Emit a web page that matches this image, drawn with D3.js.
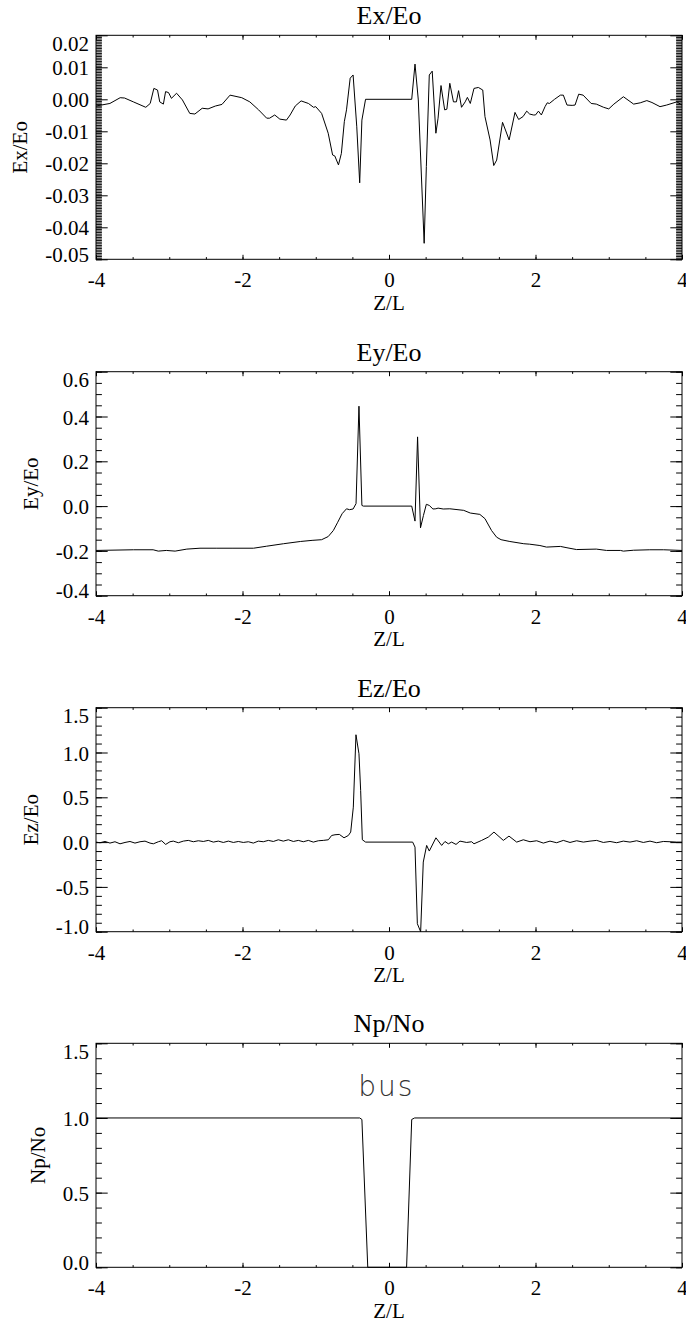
<!DOCTYPE html>
<html><head><meta charset="utf-8">
<script src="https://cdn.jsdelivr.net/npm/d3@7"></script>
<style>html,body{margin:0;padding:0;background:#fff;} svg{display:block;}</style>
</head><body><svg id="c" width="686" height="1328"></svg>
<script>
// ---------------- DATA ----------------
const exZ = [-4.00,-3.81,-3.67,-3.61,-3.49,-3.32,-3.26,-3.21,-3.16,-3.13,-3.08,-3.05,-3.01,-2.97,-2.90,-2.82,-2.72,-2.65,-2.55,-2.47,-2.37,-2.28,-2.17,-2.01,-1.90,-1.78,-1.67,-1.63,-1.56,-1.49,-1.40,-1.35,-1.28,-1.20,-1.10,-1.03,-1.00,-0.92,-0.83,-0.77,-0.74,-0.69,-0.65,-0.61,-0.58,-0.53,-0.49,-0.44,-0.40,-0.37,-0.32,0.31,0.355,0.40,0.48,0.51,0.55,0.59,0.64,0.67,0.71,0.76,0.79,0.83,0.88,0.92,0.95,0.99,1.04,1.07,1.11,1.16,1.22,1.28,1.31,1.38,1.43,1.47,1.55,1.59,1.64,1.72,1.77,1.83,1.88,1.92,1.97,2.00,2.04,2.08,2.13,2.16,2.19,2.26,2.34,2.38,2.43,2.50,2.54,2.59,2.65,2.76,2.83,2.93,3.00,3.07,3.20,3.34,3.43,3.52,3.59,3.70,3.79,3.93,4.00];
const exV = [-0.0021,-0.0013,0.0005,0.0004,-0.0008,-0.0025,-0.0013,0.0034,0.0029,-0.0008,-0.0015,0.0024,0.0021,0.0003,0.0019,-0.0002,-0.0044,-0.0046,-0.0028,-0.0030,-0.0021,-0.0016,0.0013,0.0005,-0.0008,-0.0033,-0.0059,-0.0059,-0.0049,-0.0062,-0.0065,-0.0049,-0.0021,-0.0005,-0.0013,-0.0025,-0.0023,-0.0044,-0.0106,-0.0174,-0.0177,-0.0205,-0.0169,-0.0070,-0.0033,0.0066,0.0076,-0.0086,-0.0261,-0.0065,0.0000,0.0000,0.0110,-0.0002,-0.0450,-0.0210,0.0076,0.0088,-0.0106,-0.0059,0.0043,-0.0033,-0.0031,0.0050,-0.0008,-0.0008,0.0027,-0.0025,-0.0008,0.0006,-0.0013,0.0034,0.0037,0.0029,-0.0054,-0.0127,-0.0207,-0.0190,-0.0072,-0.0096,-0.0127,-0.0041,-0.0063,-0.0054,-0.0037,-0.0046,-0.0049,-0.0049,-0.0037,-0.0049,-0.0023,-0.0011,-0.0013,0.0000,0.0013,0.0013,-0.0018,-0.0019,-0.0018,0.0016,0.0013,-0.0013,-0.0015,-0.0025,-0.0030,-0.0015,0.0008,-0.0015,-0.0011,-0.0004,-0.0010,-0.0023,-0.0018,-0.0008,-0.0018];

const eyZ = [-4.00,-3.49,-3.22,-3.15,-3.04,-2.92,-2.76,-2.58,-2.36,-2.13,-1.85,-1.67,-1.44,-1.21,-1.05,-0.92,-0.83,-0.76,-0.70,-0.64,-0.58,-0.54,-0.49,-0.45,-0.41,-0.37,-0.35,0.31,0.355,0.39,0.43,0.47,0.51,0.55,0.60,0.64,0.67,0.74,0.83,1.02,1.11,1.24,1.31,1.40,1.47,1.53,1.65,1.84,1.92,2.06,2.15,2.34,2.43,2.56,2.83,2.97,3.16,3.20,3.34,3.56,3.75,4.00];
const eyV = [-0.198,-0.195,-0.195,-0.201,-0.198,-0.201,-0.192,-0.188,-0.188,-0.188,-0.188,-0.179,-0.168,-0.158,-0.153,-0.150,-0.136,-0.109,-0.072,-0.034,-0.012,-0.016,-0.013,0.011,0.446,0.003,0.000,0.000,-0.067,0.309,-0.097,-0.042,0.008,0.003,-0.013,-0.012,-0.009,-0.013,-0.012,-0.019,-0.031,-0.037,-0.056,-0.109,-0.139,-0.150,-0.158,-0.168,-0.170,-0.176,-0.183,-0.180,-0.186,-0.194,-0.192,-0.198,-0.198,-0.201,-0.197,-0.195,-0.195,-0.198];

const ezZ = [-4.00,-3.945,-3.877,-3.809,-3.741,-3.672,-3.604,-3.536,-3.468,-3.399,-3.331,-3.263,-3.217,-3.149,-3.104,-3.049,-2.990,-2.944,-2.876,-2.808,-2.740,-2.671,-2.603,-2.535,-2.467,-2.398,-2.330,-2.262,-2.193,-2.125,-2.057,-1.989,-1.920,-1.852,-1.784,-1.716,-1.647,-1.579,-1.511,-1.443,-1.374,-1.306,-1.238,-1.170,-1.101,-1.033,-0.965,-0.897,-0.828,-0.783,-0.737,-0.678,-0.614,-0.555,-0.523,-0.487,-0.451,-0.410,-0.387,-0.364,-0.319,0.323,0.355,0.387,0.432,0.468,0.514,0.550,0.641,0.719,0.764,0.810,0.855,0.915,0.969,1.060,1.128,1.160,1.265,1.356,1.433,1.561,1.638,1.743,1.834,1.925,2.016,2.107,2.198,2.289,2.380,2.471,2.562,2.653,2.744,2.835,2.926,3.017,3.108,3.199,3.290,3.381,3.472,3.563,3.654,3.745,3.836,3.927,4.00];
const ezV = [0.000,-0.007,0.007,-0.011,0.004,-0.019,-0.004,0.007,-0.011,0.004,0.011,-0.011,-0.019,0.004,0.015,-0.026,0.004,0.011,-0.007,0.011,0.019,0.004,0.015,0.007,0.019,0.000,0.011,-0.004,0.011,-0.004,0.007,-0.004,0.004,-0.011,0.011,0.004,0.019,0.007,0.026,0.011,0.026,0.007,0.019,0.004,0.019,0.000,0.015,0.019,0.026,0.074,0.082,0.086,0.048,0.074,0.112,0.390,1.198,0.986,0.577,0.026,0.000,0.000,-0.056,-0.911,-1.000,-0.223,-0.037,-0.100,0.048,-0.037,0.007,-0.019,0.000,-0.026,0.011,-0.004,0.004,-0.019,0.019,0.056,0.112,0.019,0.067,0.000,0.026,0.004,0.015,-0.011,0.011,-0.007,0.019,-0.004,0.015,0.000,0.011,0.019,-0.004,0.007,-0.007,0.011,0.000,0.015,-0.004,0.011,-0.007,0.007,0.004,0.000,0.000];

const npZ = [-4.00,-0.40,-0.37,-0.29,0.24,0.31,0.35,4.00];
const npV = [1.00,1.00,0.99,0.00,0.00,0.99,1.00,1.00];

const xTicks = [-4,-2,0,2,4];
const xMinorStep = 0.5;
const exTicks = [-0.05,-0.04,-0.03,-0.02,-0.01,0.00,0.01,0.02];
const eyTicks = [-0.4,-0.2,0.0,0.2,0.4,0.6];
const ezTicks = [-1.0,-0.5,0.0,0.5,1.0,1.5];
const npTicks = [0.0,0.5,1.0,1.5];
const titles = ["Ex/Eo","Ey/Eo","Ez/Eo","Np/No"];
const xTitle = "Z/L";
const minorSteps = [0.0005,0.05,0.1,0.1];
const decimals = [2,1,1,1];
const annotText = "bus";
const annotZ = -0.42, annotV = 1.15;

// ---------------- LAYOUT ----------------
const W = 686, H = 1328;
const L = 96, R = 682;
const tops = [35.3, 371.7, 707.7, 1043.3];
const PH = 224;
const YMAJ = 11.7, YMIN = 5.9, XMAJ = 4.5, XMIN = 2.2;
const serif = "Liberation Serif";

const series = [[exZ,exV],[eyZ,eyV],[ezZ,ezV],[npZ,npV]];
const tickSets = [exTicks,eyTicks,ezTicks,npTicks];

const svg = d3.select("#c");
svg.append("rect").attr("width",W).attr("height",H).attr("fill","#fff");

const x = d3.scaleLinear().domain([xTicks[0], xTicks[xTicks.length-1]]).range([L,R]);
const xn = Math.round((x.domain()[1]-x.domain()[0])/xMinorStep);
const xMinor = d3.range(xn+1).map(k => x.domain()[0] + k*xMinorStep);

function fmt(v,d){ return (Math.abs(v)<1e-12?0:v).toFixed(d); }
function styleAxis(sel){ sel.attr("font-family",serif).attr("font-size",21).select(".domain").remove(); sel.selectAll(".tick line").attr("stroke","#000"); }

tickSets.forEach((ticks,i)=>{
  const top = tops[i], bot = top+PH;
  const lo = ticks[0], hi = ticks[ticks.length-1];
  const y = d3.scaleLinear().domain([lo,hi]).range([bot,top]);
  const n = Math.round((hi-lo)/minorSteps[i]);
  const yMinor = d3.range(n+1).map(k => lo + k*minorSteps[i]);
  const g = svg.append("g");

  g.append("g").attr("transform",`translate(${L},0)`).call(d3.axisLeft(y).tickValues(yMinor).tickSize(-YMIN).tickSizeOuter(0).tickFormat("")).call(styleAxis);
  g.append("g").attr("transform",`translate(${R},0)`).call(d3.axisRight(y).tickValues(yMinor).tickSize(-YMIN).tickSizeOuter(0).tickFormat("")).call(styleAxis);
  g.append("g").attr("transform",`translate(${R},0)`).call(d3.axisRight(y).tickValues(ticks).tickSize(-YMAJ).tickSizeOuter(0).tickFormat("")).call(styleAxis);
  const left = g.append("g").attr("transform",`translate(${L},0)`)
    .call(d3.axisLeft(y).tickValues(ticks).tickSize(-YMAJ).tickSizeOuter(0).tickPadding(7).tickFormat(v=>fmt(v,decimals[i])))
    .call(styleAxis);
  left.selectAll(".tick text").attr("fill","#000").attr("font-family",serif).attr("dy","0.36em")
    .attr("y", d => Math.abs(d-hi)<1e-9 ? 7.5 : (Math.abs(d-lo)<1e-9 ? -5.5 : 0));

  g.append("g").attr("transform",`translate(0,${bot})`).call(d3.axisBottom(x).tickValues(xMinor).tickSize(-XMIN).tickSizeOuter(0).tickFormat("")).call(styleAxis);
  g.append("g").attr("transform",`translate(0,${top})`).call(d3.axisTop(x).tickValues(xMinor).tickSize(-XMIN).tickSizeOuter(0).tickFormat("")).call(styleAxis);
  g.append("g").attr("transform",`translate(0,${top})`).call(d3.axisTop(x).tickValues(xTicks).tickSize(-XMAJ).tickSizeOuter(0).tickFormat("")).call(styleAxis);
  const bx = g.append("g").attr("transform",`translate(0,${bot})`)
    .call(d3.axisBottom(x).tickValues(xTicks).tickSize(-XMAJ).tickSizeOuter(0).tickFormat(d3.format("d")))
    .call(styleAxis);
  bx.selectAll(".tick text").attr("fill","#000").attr("font-family",serif).attr("y",28).attr("dy",0).text(d=>String(d));

  g.append("rect").attr("x",L).attr("y",top).attr("width",R-L).attr("height",PH)
    .attr("fill","none").attr("stroke","#000").attr("stroke-width",1);

  const [zs,vs] = series[i];
  const pts = zs.map((z,k)=>[z,vs[k]]);
  g.append("path").datum(pts)
    .attr("d", d3.line().x(d=>x(d[0])).y(d=>y(d[1])))
    .attr("fill","none").attr("stroke","#000").attr("stroke-width",1).attr("stroke-linejoin","round");

  g.append("text").attr("x",(L+R)/2).attr("y",top-11).attr("text-anchor","middle")
    .attr("font-family",serif).attr("font-size",26).text(titles[i]);
  g.append("text").attr("x",(L+R)/2).attr("y",bot+50.7).attr("text-anchor","middle")
    .attr("font-family",serif).attr("font-size",21).text(xTitle);
  const bb = left.node().getBBox();
  const yl = L + bb.x - 18;
  g.append("text").attr("transform",`translate(${yl},${(top+bot)/2}) rotate(-90)`).attr("text-anchor","middle")
    .attr("font-family",serif).attr("font-size",21).text(titles[i]);

  if(i===3){
    g.append("text").attr("x",x(annotZ)).attr("y",y(annotV))
      .attr("font-family","DejaVu Sans").attr("font-weight",200).attr("font-size",28)
      .attr("letter-spacing",2).attr("fill","#333").text(annotText);
  }
});
</script>
</body></html>
